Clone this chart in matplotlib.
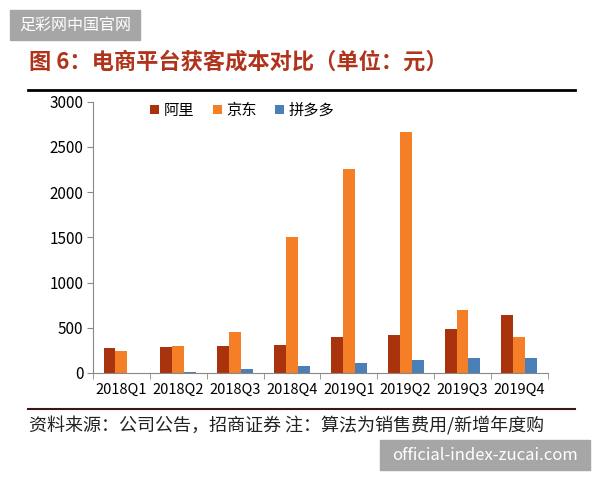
import matplotlib
matplotlib.use("Agg")
import matplotlib.pyplot as plt
import numpy as np
from matplotlib.patches import Rectangle

plt.rcParams["font.family"] = ["Noto Sans CJK SC", "DejaVu Sans"]

quarters = ["2018Q1", "2018Q2", "2018Q3", "2018Q4",
            "2019Q1", "2019Q2", "2019Q3", "2019Q4"]
ali = [276, 284, 300, 313, 393, 423, 486, 640]
jd = [239, 302, 453, 1502, 2260, 2668, 699, 397]
pdd = [0, 15, 40, 81, 110, 147, 161, 166]
series_names = ["阿里", "京东", "拼多多"]
colors = ["#A8330C", "#F57F27", "#4A7FB8"]

fig = plt.figure(figsize=(6, 4.8), dpi=100)
ax = fig.add_axes([0.155, 0.223, 0.758, 0.565])

x = np.arange(len(quarters))
w = 0.21
for vals, off, name, c in zip([ali, jd, pdd], [-w, 0, w], series_names, colors):
    ax.bar(x + off, vals, width=w, color=c, label=name)

ax.set_xlim(-0.5, len(quarters) - 0.5)
ax.set_ylim(0, 3000)
ax.set_yticks(np.arange(0, 3001, 500))
ax.tick_params(axis="y", labelsize=11, length=4, color="#888888", pad=3)
ax.set_xticks(x)
ax.set_xticklabels(quarters, fontsize=10.5)
ax.tick_params(axis="x", length=0, pad=7)
ax.set_xticks(np.arange(-0.5, len(quarters), 1), minor=True)
ax.tick_params(axis="x", which="minor", length=4, color="#888888")
ax.spines[["top", "right"]].set_visible(False)
ax.spines[["left", "bottom"]].set_color("#888888")

ax.legend(loc="upper left", bbox_to_anchor=(0.095, 1.05), ncol=3, frameon=False,
          fontsize=11, handlelength=0.6, handleheight=0.6, handletextpad=0.3,
          columnspacing=1.2)

# title and rules
fig.text(0.048, 0.87, "图 6：电商平台获客成本对比（单位：元）", fontsize=16,
         fontweight="bold", color="#B0341C", va="center")
fig.add_artist(plt.Line2D([0.047, 0.958], [0.812, 0.812], color="black", lw=2))
fig.add_artist(plt.Line2D([0.047, 0.958], [0.148, 0.148], color="#3a1a10", lw=1.5))
fig.text(0.048, 0.113, "资料来源：公司公告，招商证券 注：算法为销售费用/新增年度购",
         fontsize=13, color="#222222", va="center")

# watermark boxes
fig.add_artist(Rectangle((10 / 600, 1 - 40 / 480), 130 / 600, 30 / 480,
                         transform=fig.transFigure, color="#A6A6A6"))
fig.text(75 / 600, 1 - 25 / 480, "足彩网中国官网", color="white", fontsize=11.5,
         ha="center", va="center")
fig.add_artist(Rectangle((380 / 600, 1 - 470 / 480), 210 / 600, 30 / 480,
                         transform=fig.transFigure, color="#A6A6A6"))
fig.text(485 / 600, 1 - 455 / 480, "official-index-zucai.com", color="white",
         fontsize=12, ha="center", va="center")

fig.savefig("out.png", dpi=100)
